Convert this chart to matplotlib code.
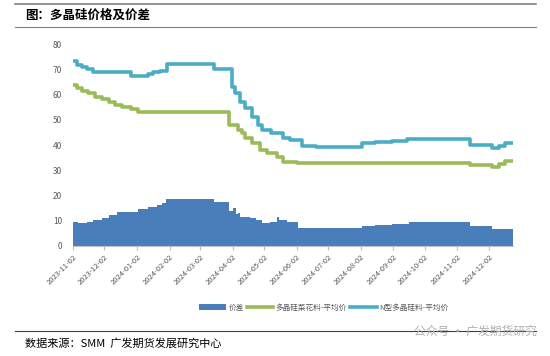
import numpy as np
import pandas as pd
import matplotlib.pyplot as plt
import matplotlib.dates as mdates

plt.rcParams['font.family'] = ['Noto Sans CJK SC', 'DejaVu Sans']

# N型多晶硅料-平均价 (change dates, values)
n_dates = ['2023-11-02', '2023-11-06', '2023-11-11', '2023-11-15', '2023-11-21', '2023-12-27',
           '2024-01-12', '2024-01-17', '2024-01-24', '2024-01-31', '2024-03-15', '2024-04-01',
           '2024-04-04', '2024-04-09', '2024-04-14', '2024-04-20', '2024-04-26', '2024-04-30',
           '2024-05-09', '2024-05-20', '2024-05-27', '2024-06-07', '2024-06-20', '2024-08-03',
           '2024-08-16', '2024-09-01', '2024-09-15', '2024-11-14', '2024-12-05', '2024-12-12',
           '2024-12-17', '2024-12-25']
n_vals = [73.3, 71.7, 70.8, 70.0, 68.8, 67.3,
          68.1, 68.8, 69.4, 72.0, 70.3, 63.0,
          60.6, 57.0, 54.6, 51.2, 47.9, 45.9,
          44.9, 42.8, 42.0, 39.8, 39.1, 40.7,
          41.3, 41.8, 42.4, 40.1, 38.7, 39.5,
          40.7, 40.7]

# 多晶硅菜花料-平均价
c_dates = ['2023-11-02', '2023-11-06', '2023-11-11', '2023-11-16', '2023-11-23', '2023-11-30',
           '2023-12-06', '2023-12-12', '2023-12-19', '2023-12-27', '2024-01-03', '2024-03-30',
           '2024-04-07', '2024-04-11', '2024-04-14', '2024-04-20', '2024-04-28', '2024-05-05',
           '2024-05-14', '2024-05-20', '2024-06-02', '2024-11-14', '2024-12-05', '2024-12-12',
           '2024-12-17', '2024-12-25']
c_vals = [64.0, 62.7, 61.5, 60.5, 59.1, 58.1,
          57.2, 55.8, 55.0, 54.1, 53.0, 47.9,
          45.9, 44.7, 43.0, 40.7, 38.0, 36.8,
          35.1, 33.4, 32.7, 32.1, 31.5, 32.5,
          33.8, 33.8]

# 价差
s_dates = ['2023-11-02', '2023-11-07', '2023-11-15', '2023-11-21', '2023-11-30', '2023-12-06',
           '2023-12-14', '2024-01-03', '2024-01-12', '2024-01-21', '2024-01-26', '2024-01-30',
           '2024-03-15', '2024-03-30', '2024-04-02', '2024-04-05', '2024-04-07', '2024-04-09',
           '2024-04-19', '2024-04-24', '2024-04-30', '2024-05-08', '2024-05-14', '2024-05-16',
           '2024-05-24', '2024-06-03', '2024-08-03', '2024-08-16', '2024-09-01', '2024-09-17',
           '2024-11-14', '2024-12-05', '2024-12-25']
s_vals = [9.6, 9.0, 9.5, 10.3, 11.0, 12.3,
          13.3, 14.5, 15.6, 16.2, 17.0, 18.8,
          17.5, 14.0, 15.0, 12.5, 13.0, 11.6,
          11.0, 10.5, 9.0, 9.5, 11.4, 10.3,
          9.5, 7.3, 7.9, 8.5, 8.9, 9.4,
          8.0, 6.9, 6.9]

tick_dates = pd.date_range('2023-11-01', '2024-12-01', freq='MS') + pd.Timedelta(days=1)

n_x = pd.to_datetime(n_dates)
c_x = pd.to_datetime(c_dates)
s_x = pd.to_datetime(s_dates)

fig = plt.figure(figsize=(5.5, 3.56), dpi=100)
ax = fig.add_axes([0.1327, 0.309, 0.80, 0.567])

ax.fill_between(s_x, s_vals, step='post', color='#4a7ebb', linewidth=0, label='价差')
ax.step(c_x, c_vals, where='post', color='#9bbb59', lw=2.6, label='多晶硅菜花料-平均价')
ax.step(n_x, n_vals, where='post', color='#4bacc6', lw=2.6, label='N型多晶硅料-平均价')

ax.set_ylim(0, 80)
ax.set_yticks(range(0, 81, 10))
ax.set_xlim(pd.Timestamp('2023-11-02'), pd.Timestamp('2024-12-25'))
ax.set_xticks(tick_dates)
ax.xaxis.set_major_formatter(mdates.DateFormatter('%Y-%m-%d'))
for lab in ax.get_xticklabels():
    lab.set_rotation(45)
    lab.set_ha('right')
    lab.set_rotation_mode('anchor')
ax.tick_params(axis='x', labelsize=5.5, colors='#bfbfbf', labelcolor='#595959', length=3, pad=2)
ax.tick_params(axis='y', labelsize=6, labelcolor='#595959', length=0, pad=8)
for s in ['top', 'right', 'left']:
    ax.spines[s].set_visible(False)
ax.spines['bottom'].set_color('#bfbfbf')

ax.legend(loc='center', bbox_to_anchor=(0.57, -0.305), ncol=3, frameon=False,
          fontsize=5.5, handlelength=3.5, handletextpad=0.3, columnspacing=0.4,
          labelcolor='#595959')

# header and footer
fig.add_artist(plt.Line2D([0.027, 0.975], [0.99, 0.99], color='#808080', lw=1.2))
fig.add_artist(plt.Line2D([0.027, 0.975], [0.925, 0.925], color='#808080', lw=0.8))
fig.text(0.045, 0.958, '图：多晶硅价格及价差', fontsize=9, fontweight='bold', va='center')
fig.add_artist(plt.Line2D([0.027, 0.975], [0.07, 0.07], color='#404040', lw=0.8))
fig.text(0.045, 0.034, '数据来源：SMM  广发期货发展研究中心', fontsize=8, va='center')
fig.text(0.975, 0.07, '公众号 · 广发期货研究', fontsize=8.5, color='#b0b0b0',
         ha='right', va='center')

fig.savefig('out.png', dpi=100)
